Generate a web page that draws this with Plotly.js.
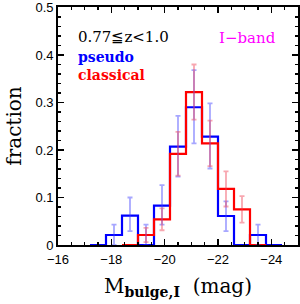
<!DOCTYPE html>
<html>
<head>
<meta charset="utf-8">
<script src="https://cdn.plot.ly/plotly-3.0.1.min.js"></script>
<style>html,body{margin:0;padding:0;background:#fff;}#chart{width:300px;height:304px;}</style>
</head>
<body>
<div id="chart"></div>
<script>
// bin centres (mag) and bin width
const binCenters = [-17.5, -18.1, -18.7, -19.3, -19.9, -20.5, -21.1, -21.7, -22.3, -22.9, -23.5, -24.1];
const binWidth = 0.6;

// pseudo bulges (blue)
const pseudoFrac = [0, 0.021, 0.062, 0, 0.083, 0.207, 0.290, 0.228, 0.061, 0, 0.021, 0];
const pseudoErrPlus = [0, 0.022, 0.038, 0.043, 0.043, 0.065, 0.078, 0.070, 0.031, 0, 0.022, 0];
const pseudoErrMinus = [0, 0.021, 0.033, 0, 0.040, 0.063, 0.076, 0.067, 0.032, 0, 0.021, 0];
const pseudoShow = [false, true, true, true, true, true, true, true, true, false, true, false];

// classical bulges (red)
const classCenters = [-18.7, -19.3, -19.9, -20.5, -21.1, -21.7, -22.3, -22.9, -23.5];
const classFrac = [0, 0.021, 0.054, 0.192, 0.322, 0.214, 0.118, 0.075, 0];
const classErr = [0, 0.015, 0.023, 0.046, 0.058, 0.048, 0.037, 0.028, 0];
const classShow = [false, true, true, true, true, true, true, true, false];

const xTickVals = [-16, -18, -20, -22, -24];
const yTickVals = [0, 0.1, 0.2, 0.3, 0.4, 0.5];
const yTickText = ['0', '0.1', '0.2', '0.3', '0.4', '0.5'];

function stepLine(centers, vals) {
  const xs = [], ys = [];
  centers.forEach((c, i) => {
    xs.push(c + binWidth / 2, c - binWidth / 2);
    ys.push(vals[i], vals[i]);
  });
  return {xs, ys};
}
function filt(arr, mask) { return arr.filter((_, i) => mask[i]); }

const ps = stepLine(binCenters, pseudoFrac);
const cs = stepLine(classCenters, classFrac);

const blue = '#0000ff', red = '#ff0000';

const traces = [
  {x: ps.xs, y: ps.ys, mode: 'lines', line: {color: blue, width: 2.2}, hoverinfo: 'skip'},
  {x: cs.xs, y: cs.ys, mode: 'lines', line: {color: red, width: 2.2}, hoverinfo: 'skip'},
  {x: filt(binCenters, pseudoShow), y: filt(pseudoFrac, pseudoShow), mode: 'markers',
   marker: {size: 0.1, color: 'rgba(0,0,0,0)'},
   error_y: {type: 'data', symmetric: false, array: filt(pseudoErrPlus, pseudoShow), arrayminus: filt(pseudoErrMinus, pseudoShow),
             color: 'rgba(60,60,255,0.45)', thickness: 1.8, width: 2.5}},
  {x: filt(classCenters, classShow), y: filt(classFrac, classShow), mode: 'markers',
   marker: {size: 0.1, color: 'rgba(0,0,0,0)'},
   error_y: {type: 'data', array: filt(classErr, classShow),
             color: 'rgba(240,60,80,0.45)', thickness: 1.8, width: 2.5}}
];

const serif = 'DejaVu Serif, serif';
const ann = (x, y, text, color, bold, size) => ({
  xref: 'paper', yref: 'paper', x, y, xanchor: 'left', yanchor: 'middle', showarrow: false,
  text: bold ? '<b>' + text + '</b>' : text, font: {family: serif, size: size, color}
});

const layout = {
  width: 300, height: 304,
  margin: {l: 58, r: 2, t: 7, b: 59},
  paper_bgcolor: '#fff', plot_bgcolor: '#fff',
  showlegend: false,
  xaxis: {
    range: [-16, -25], tickvals: xTickVals, ticks: 'inside', ticklen: 6, tickwidth: 1.5, tickcolor: '#000',
    minor: {dtick: 0.5, tick0: -16, ticks: 'inside', ticklen: 3, tickwidth: 1.3, tickcolor: '#000'},
    showline: true, linecolor: '#000', linewidth: 1.8, mirror: 'allticks', showgrid: false, zeroline: false,
    ticklabelstandoff: 2,
    tickfont: {family: 'Liberation Sans, Arial, sans-serif', size: 13, color: '#000'},
    title: {text: 'M<sub><b>bulge,I</b></sub>  (mag)', font: {family: serif, size: 20, color: '#000'}, standoff: 12}
  },
  yaxis: {
    range: [0, 0.501], tickvals: yTickVals, ticktext: yTickText, ticks: 'inside', ticklen: 6, tickwidth: 1.5, tickcolor: '#000',
    minor: {dtick: 0.02, tick0: 0, ticks: 'inside', ticklen: 3, tickwidth: 1.3, tickcolor: '#000'},
    showline: true, linecolor: '#000', linewidth: 1.8, mirror: 'allticks', showgrid: false, zeroline: false,
    ticklabeloverflow: 'allow',
    tickfont: {family: 'Liberation Sans, Arial, sans-serif', size: 13, color: '#000'},
    title: {text: 'fraction', font: {family: serif, size: 20, color: '#000'}, standoff: 8}
  },
  annotations: [
    ann(0.075, 0.875, '0.77≦z<1.0', '#000', false, 15),
    ann(0.075, 0.792, 'pseudo', blue, true, 14),
    ann(0.075, 0.713, 'classical', red, true, 14),
    ann(0.662, 0.871, 'I−band', '#ff00ff', false, 15)
  ]
};

Plotly.newPlot('chart', traces, layout, {staticPlot: true, displayModeBar: false});
</script>
</body>
</html>
